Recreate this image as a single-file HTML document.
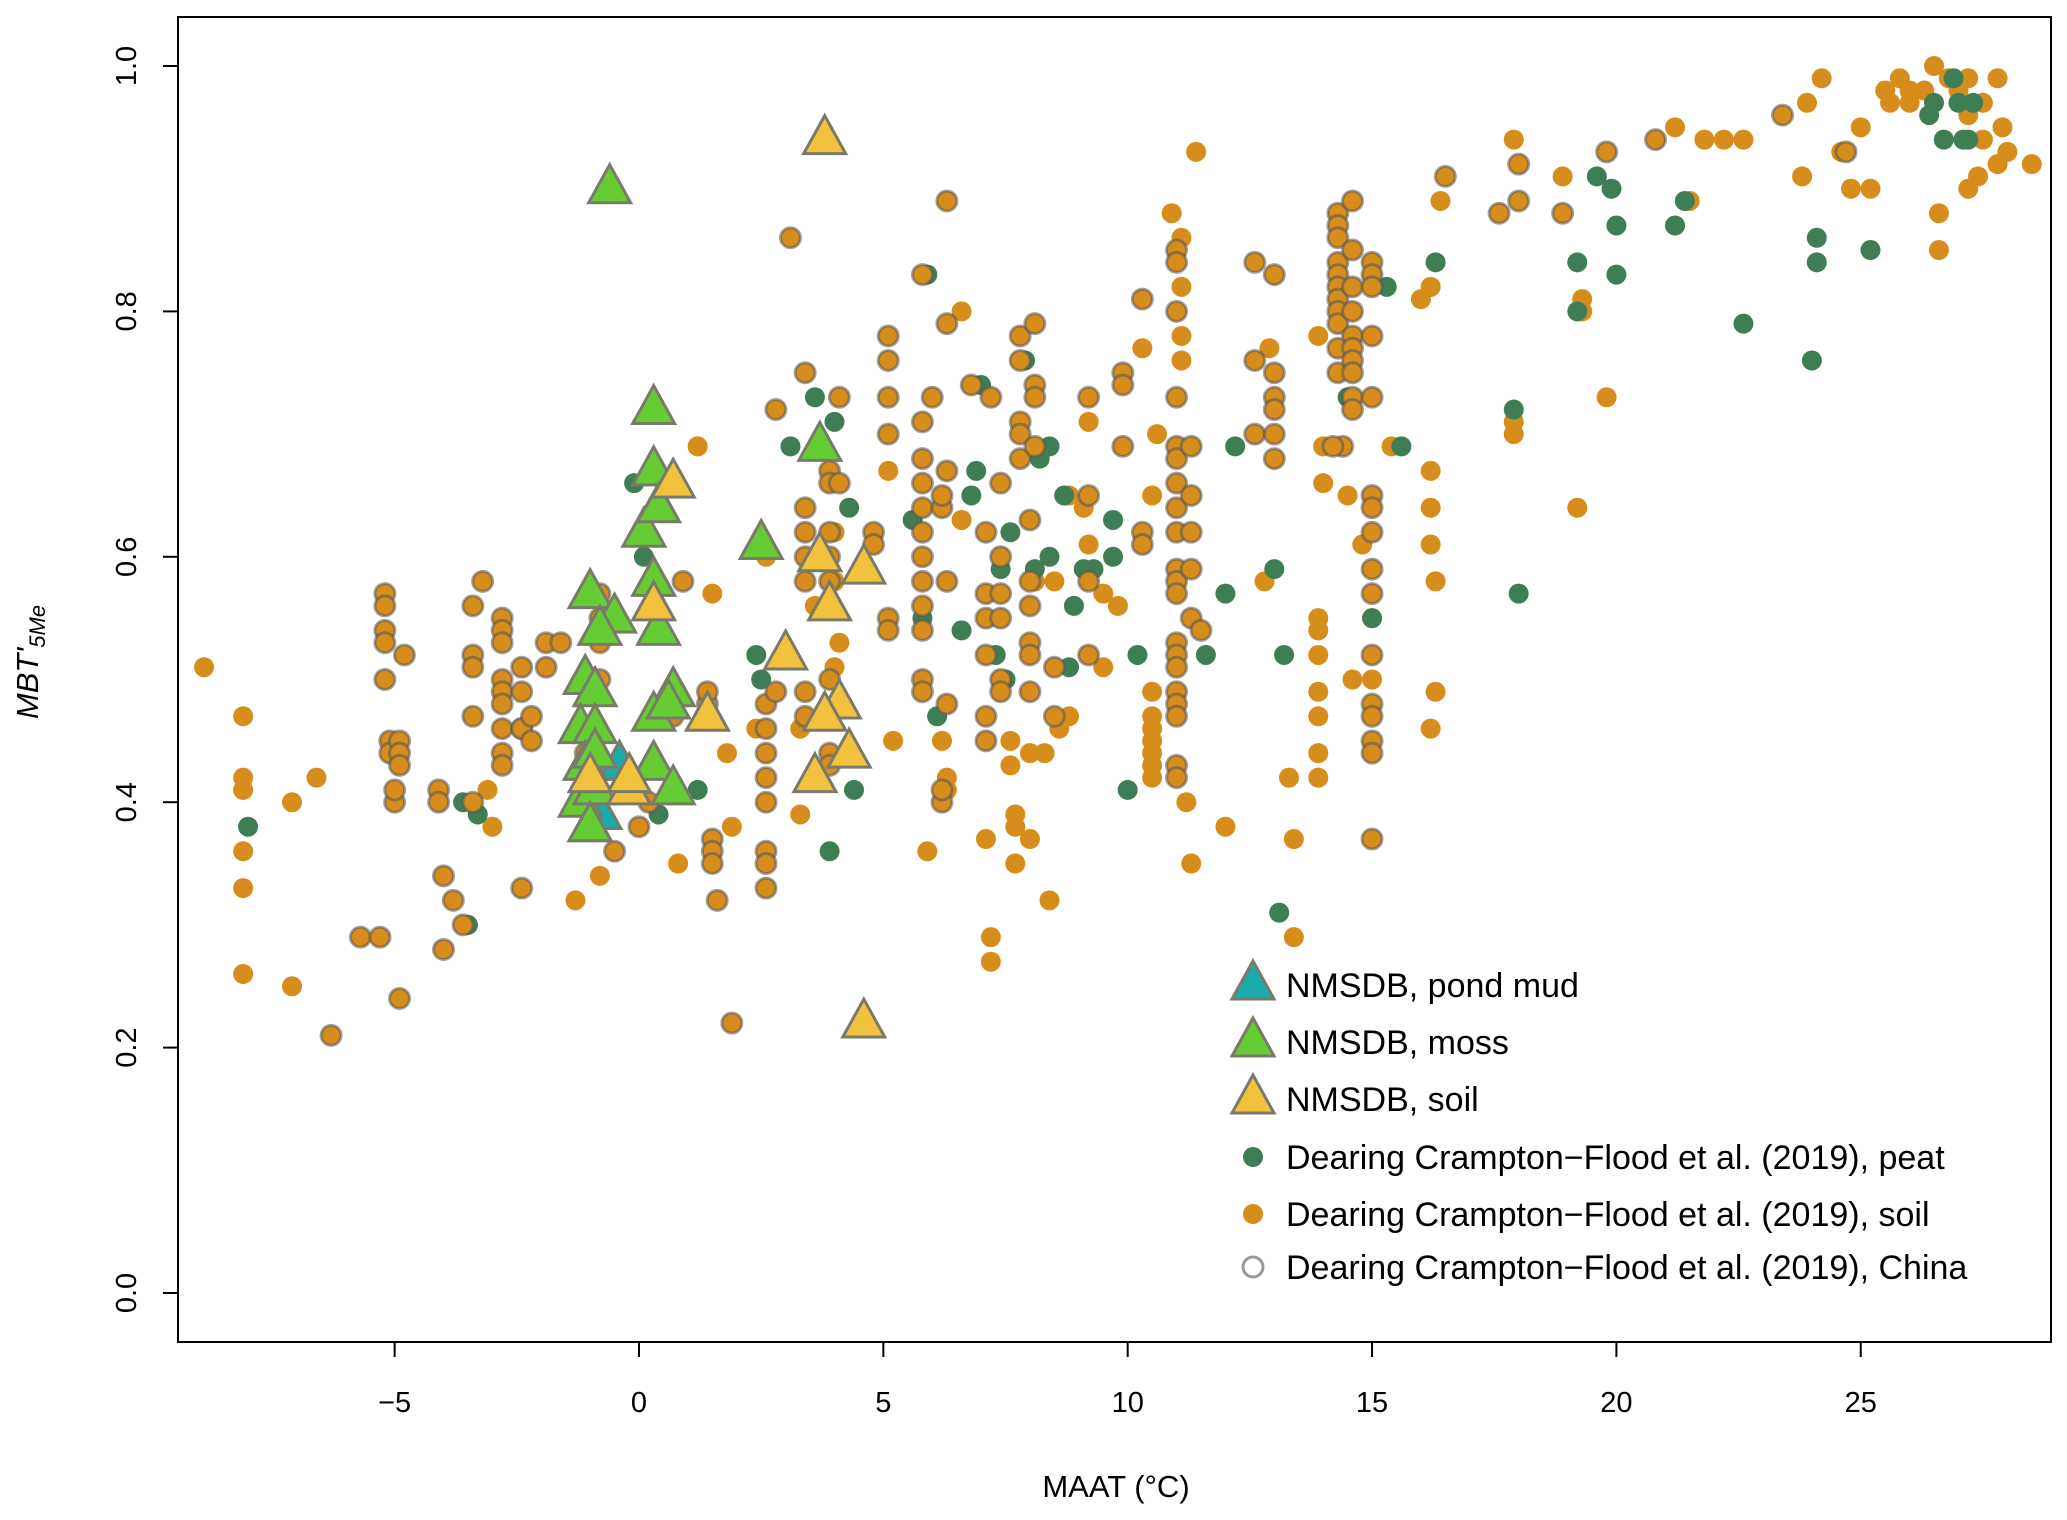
<!DOCTYPE html>
<html><head><meta charset="utf-8"><style>
html,body{margin:0;padding:0;background:#fff;}
svg{display:block;font-family:"Liberation Sans",sans-serif;}
</style></head><body>
<svg id="chart" width="2067" height="1520" viewBox="0 0 2067 1520" xmlns="http://www.w3.org/2000/svg">
<rect x="178" y="17" width="1873" height="1325" fill="none" stroke="#000" stroke-width="2"/>
<g id="xaxis"></g>
<g id="yaxis"></g>
<text x="1116" y="1497" font-size="31" text-anchor="middle">MAAT (°C)</text>
<text transform="translate(38,662) rotate(-90)" font-size="31" text-anchor="middle" font-style="italic">MBT'<tspan font-size="22" dy="7">5Me</tspan></text>
<g id="marks"></g>
<g id="legend"></g>
</svg>
<script>
const xTicks=[-5,0,5,10,15,20,25];
const yTicks=[0.0,0.2,0.4,0.6,0.8,1.0];
const yTickLabels=["0.0","0.2","0.4","0.6","0.8","1.0"];
const soilX=[-8.9,-8.1,-8.1,-8.1,-8.1,-8.1,-8.1,-7.1,-7.1,-6.6,-3.1,-3,-1.3,-0.8,0.8,1.5,1.8,1.9,2.4,3.3,3.3,4.1,4,5.2,5.9,6.3,6.3,7.1,7.2,7.2,7.7,7.7,7.7,7.6,7.6,8,8,8.3,8.4,8.6,8.8,9.5,9.5,9.8,10.5,10.5,10.5,10.5,10.5,10.5,10.5,11.2,11.3,12,13.4,13.4,13.3,13.9,13.9,13.9,13.9,13.9,13.9,13.9,14.6,16.2,16.3,16.3,16.2,16.2,16.2,15.4,16,16.2,16.4,17.9,17.9,17.9,18.9,19.2,19.3,19.3,19.8,21.5,21.2,21.8,22.2,22.6,23.8,23.9,24.2,24.6,24.8,25,25.2,25.5,25.8,26,26.3,26.5,26.6,26.6,26.8,27,27.2,27.5,27.8,27.9,28,27.8,27.4,27.2,28.5,27.5,27.2,26,25.6,10.6,10.3,9.2,8.8,9.1,11.1,11.1,11.1,11.1,11.4,10.9,13.9,14,14,12.9,12.8,6.6,4,4,1.2,3.6,8.1,8.5,15,15,14.5,14.8,2.6,5.1,6.6,9.2,10.5,6.2];
const soilY=[0.51,0.47,0.42,0.41,0.36,0.33,0.26,0.40,0.25,0.42,0.41,0.38,0.32,0.34,0.35,0.57,0.44,0.38,0.46,0.39,0.46,0.53,0.51,0.45,0.36,0.41,0.42,0.37,0.29,0.27,0.35,0.38,0.39,0.43,0.45,0.44,0.37,0.44,0.32,0.46,0.47,0.51,0.57,0.56,0.49,0.47,0.46,0.45,0.44,0.43,0.42,0.40,0.35,0.38,0.37,0.29,0.42,0.42,0.44,0.47,0.49,0.52,0.54,0.55,0.50,0.46,0.49,0.58,0.61,0.64,0.67,0.69,0.81,0.82,0.89,0.70,0.71,0.94,0.91,0.64,0.81,0.80,0.73,0.89,0.95,0.94,0.94,0.94,0.91,0.97,0.99,0.93,0.90,0.95,0.90,0.98,0.99,0.97,0.98,1.0,0.88,0.85,0.99,0.98,0.99,0.97,0.99,0.95,0.93,0.92,0.91,0.90,0.92,0.94,0.96,0.98,0.97,0.70,0.77,0.71,0.65,0.64,0.76,0.78,0.86,0.82,0.93,0.88,0.78,0.69,0.66,0.77,0.58,0.80,0.58,0.62,0.69,0.56,0.58,0.58,0.50,0.55,0.65,0.61,0.60,0.67,0.63,0.61,0.65,0.45];
const peatX=[-8,-3.6,-3.3,-3.5,0.4,1.2,-0.1,0.1,2.4,2.5,3.1,3.6,4,4.3,4.4,3.9,5.6,5.8,5.9,6.1,6.6,6.8,6.9,7,7.4,7.4,7.4,7.3,7.5,7.6,7.9,8.1,8.4,8.4,8.7,8.8,8.9,9.1,9.3,9.7,9.7,10,10.2,11.6,12,12.2,13,13.1,13.2,14.5,15,15.3,15.6,16.3,17.9,18,19.2,19.2,19.6,19.9,20,20,21.2,21.4,22.6,24,24.1,24.1,25.2,26.4,26.5,26.7,26.9,27,27.1,27.3,27.2,7.8,8.2];
const peatY=[0.38,0.40,0.39,0.30,0.39,0.41,0.66,0.60,0.52,0.50,0.69,0.73,0.71,0.64,0.41,0.36,0.63,0.55,0.83,0.47,0.54,0.65,0.67,0.74,0.60,0.59,0.55,0.52,0.50,0.62,0.76,0.59,0.69,0.60,0.65,0.51,0.56,0.59,0.59,0.60,0.63,0.41,0.52,0.52,0.57,0.69,0.59,0.31,0.52,0.73,0.55,0.82,0.69,0.84,0.72,0.57,0.80,0.84,0.91,0.90,0.87,0.83,0.87,0.89,0.79,0.76,0.86,0.84,0.85,0.96,0.97,0.94,0.99,0.97,0.94,0.97,0.94,0.76,0.68];
const chinaX=[-5.2,-5.2,-5.2,-5.2,-5.2,-4.8,-5.1,-5.1,-4.9,-4.9,-4.9,-5,-5,-4.9,-5.7,-5.3,-6.3,-4.1,-4.1,-4,-4,-3.8,-3.6,-3.4,-3.4,-3.4,-3.4,-3.4,-3.2,-2.8,-2.8,-2.8,-2.8,-2.8,-2.8,-2.8,-2.8,-2.8,-2.4,-2.4,-2.4,-2.4,-2.4,-2.2,-2.2,-1.9,-1.9,-1.6,-1.2,-0.8,-0.8,-0.8,-0.8,-1.1,-0.5,0,0.2,0.7,0.9,1.4,1.4,1.5,1.5,1.5,1.6,1.9,2.6,2.6,2.6,2.6,2.6,2.6,2.6,2.6,2.8,2.8,3.1,3.4,3.4,3.4,3.4,3.4,3.4,3.4,3.9,3.9,3.9,3.9,3.9,3.9,3.9,3.9,3.9,4.1,4.1,4.8,4.8,5.1,5.1,5.1,5.1,5.1,5.1,5.8,5.8,5.8,5.8,5.8,5.8,5.8,5.8,5.8,5.8,5.8,5.8,6,6.2,6.2,6.2,6.2,6.3,6.3,6.3,6.3,6.3,6.8,7.1,7.1,7.1,7.1,7.1,7.1,7.2,7.4,7.4,7.4,7.4,7.4,7.4,7.8,7.8,7.8,7.8,7.8,8.1,8.1,8.1,8.1,8,8,8,8,8,8,8.5,8.5,9.2,9.2,9.2,9.2,9.9,9.9,9.9,10.3,10.3,10.3,11,11,11,11,11,11,11,11,11,11,11,11,11,11,11,11,11,11,11,11,11.3,11.3,11.3,11.3,11.3,11.5,12.6,12.6,12.6,13,13,13,13,13,13,14.3,14.3,14.3,14.3,14.3,14.3,14.3,14.3,14.3,14.3,14.3,14.6,14.6,14.6,14.6,14.6,14.6,14.6,14.6,14.6,14.6,15,15,15,15,15,15,15,15,15,15,15,15,15,15,15,15,14.4,14.2,16.5,17.6,18,18,18.9,19.8,20.8,23.4,24.7];
const chinaY=[0.57,0.56,0.54,0.53,0.50,0.52,0.45,0.44,0.45,0.44,0.43,0.40,0.41,0.24,0.29,0.29,0.21,0.41,0.40,0.34,0.28,0.32,0.30,0.40,0.52,0.51,0.47,0.56,0.58,0.55,0.54,0.53,0.50,0.49,0.48,0.46,0.44,0.43,0.51,0.49,0.46,0.46,0.33,0.45,0.47,0.53,0.51,0.53,0.40,0.55,0.57,0.53,0.50,0.44,0.36,0.38,0.40,0.47,0.58,0.48,0.49,0.37,0.36,0.35,0.32,0.22,0.48,0.46,0.44,0.42,0.40,0.36,0.35,0.33,0.72,0.49,0.86,0.75,0.64,0.62,0.60,0.58,0.49,0.47,0.67,0.66,0.62,0.60,0.58,0.50,0.47,0.44,0.43,0.73,0.66,0.62,0.61,0.55,0.54,0.78,0.76,0.73,0.70,0.71,0.68,0.66,0.64,0.62,0.60,0.58,0.56,0.54,0.50,0.49,0.83,0.73,0.64,0.65,0.40,0.41,0.48,0.58,0.67,0.79,0.89,0.74,0.62,0.57,0.55,0.52,0.47,0.45,0.73,0.66,0.60,0.57,0.55,0.50,0.49,0.78,0.76,0.71,0.70,0.68,0.79,0.74,0.73,0.69,0.63,0.58,0.56,0.53,0.52,0.49,0.47,0.51,0.73,0.65,0.58,0.52,0.75,0.74,0.69,0.81,0.62,0.61,0.85,0.84,0.80,0.73,0.69,0.68,0.66,0.64,0.62,0.59,0.58,0.57,0.53,0.52,0.51,0.49,0.48,0.47,0.43,0.42,0.59,0.55,0.65,0.62,0.69,0.54,0.84,0.76,0.70,0.83,0.75,0.73,0.72,0.70,0.68,0.88,0.87,0.86,0.84,0.83,0.82,0.81,0.80,0.79,0.77,0.75,0.89,0.85,0.82,0.80,0.78,0.77,0.76,0.75,0.73,0.72,0.84,0.83,0.82,0.78,0.73,0.65,0.64,0.62,0.59,0.57,0.52,0.48,0.47,0.45,0.44,0.37,0.69,0.69,0.91,0.88,0.92,0.89,0.88,0.93,0.94,0.96,0.93];
const pondX=[-0.4,-1,-0.8];
const pondY=[0.43,0.38,0.39];
const mossX=[-0.6,0.3,0.3,0.1,0.4,3.7,2.5,0.3,-1,-0.5,-0.8,0.4,-1.1,-0.9,0.7,-1.2,-0.9,0.3,0.6,-1.1,-0.9,0.3,-1.2,-0.9,0.7,-1];
const mossY=[0.90,0.72,0.67,0.62,0.64,0.69,0.61,0.58,0.57,0.55,0.54,0.54,0.50,0.49,0.49,0.46,0.46,0.47,0.48,0.43,0.44,0.43,0.40,0.41,0.41,0.38];
const nsoilX=[3.8,0.7,3.7,4.6,3.9,0.3,3,1.4,4.1,3.8,4.3,3.6,-1,-0.2,-0.2,4.6];
const nsoilY=[0.94,0.66,0.60,0.59,0.56,0.56,0.52,0.47,0.48,0.47,0.44,0.42,0.42,0.41,0.42,0.22];

const NS="http://www.w3.org/2000/svg";
const X0=639,XS=48.87,Y0=1293,YS=1227;
function sx(v){return X0+v*XS;}
function sy(v){return Y0-v*YS;}
function mk(tag,attrs,parent){const e=document.createElementNS(NS,tag);for(const k in attrs)e.setAttribute(k,attrs[k]);parent.appendChild(e);return e;}
const xa=document.getElementById('xaxis'),ya=document.getElementById('yaxis'),marks=document.getElementById('marks'),lg=document.getElementById('legend');
xTicks.forEach(t=>{
  const l=mk('line',{x1:sx(t),x2:sx(t),y1:1342,y2:1357,stroke:'#000','stroke-width':2},xa);
  
  
  const tx=mk('text',{x:sx(t),y:1412,'font-size':29,'text-anchor':'middle'},xa);
  tx.textContent=t<0?'\u2212'+Math.abs(t):String(t);
  
  
});
yTicks.forEach((t,i)=>{
  const l=mk('line',{x1:163,x2:178,y1:sy(t),y2:sy(t),stroke:'#000','stroke-width':2},ya);
  
  
  const tx=mk('text',{transform:`translate(136,${sy(t)}) rotate(-90)`,'font-size':29,'text-anchor':'middle'},ya);
  tx.textContent=yTickLabels[i];
  
  
});
function circ(xs,ys,fill,stroke,name){
  xs.forEach((x,i)=>{
    const c=mk('circle',{cx:sx(x),cy:sy(ys[i]),r:10,fill:fill,stroke:stroke,'stroke-width':stroke==='none'?0:3,'stroke-opacity':0.55},marks);
    
    
  });
}
function tri(xs,ys,fill,name){
  xs.forEach((x,i)=>{
    const cx=sx(x),cy=sy(ys[i]);
    const p=mk('polygon',{points:`${cx},${cy-24} ${cx-21},${cy+14} ${cx+21},${cy+14}`,fill:fill,stroke:'#7a7a6a','stroke-width':3},marks);
    
    
  });
}
circ(soilX,soilY,'#D68D1C','none','soil-point');
circ(peatX,peatY,'#3F7E55','none','peat-point');
circ(chinaX,chinaY,'#D68D1C','#555','china-point');
tri(pondX,pondY,'#1AABAA','pond-mud-triangle');
tri(mossX,mossY,'#66CC33','moss-triangle');
tri(nsoilX,nsoilY,'#F2C23E','nmsdb-soil-triangle');

const legItems=[
 ['tri','#1AABAA','NMSDB, pond mud',985],
 ['tri','#66CC33','NMSDB, moss',1042],
 ['tri','#F2C23E','NMSDB, soil',1099],
 ['dot','#3F7E55','Dearing Crampton\u2212Flood et al. (2019), peat',1157],
 ['dot','#D68D1C','Dearing Crampton\u2212Flood et al. (2019), soil',1214],
 ['ring','#fff','Dearing Crampton\u2212Flood et al. (2019), China',1267]
];
legItems.forEach(it=>{
  const g=mk('g',{},lg);
  
  
  const cx=1253,cy=it[3];
  if(it[0]==='tri') mk('polygon',{points:`${cx},${cy-24} ${cx-21},${cy+14} ${cx+21},${cy+14}`,fill:it[1],stroke:'#7a7a6a','stroke-width':3},g);
  else if(it[0]==='dot') mk('circle',{cx:cx,cy:cy,r:10,fill:it[1]},g);
  else mk('circle',{cx:cx,cy:cy,r:10,fill:'none',stroke:'#999','stroke-width':3},g);
  const t=mk('text',{x:1286,y:cy+12,'font-size':34},g);
  t.textContent=it[2];
});
</script>
</body></html>
